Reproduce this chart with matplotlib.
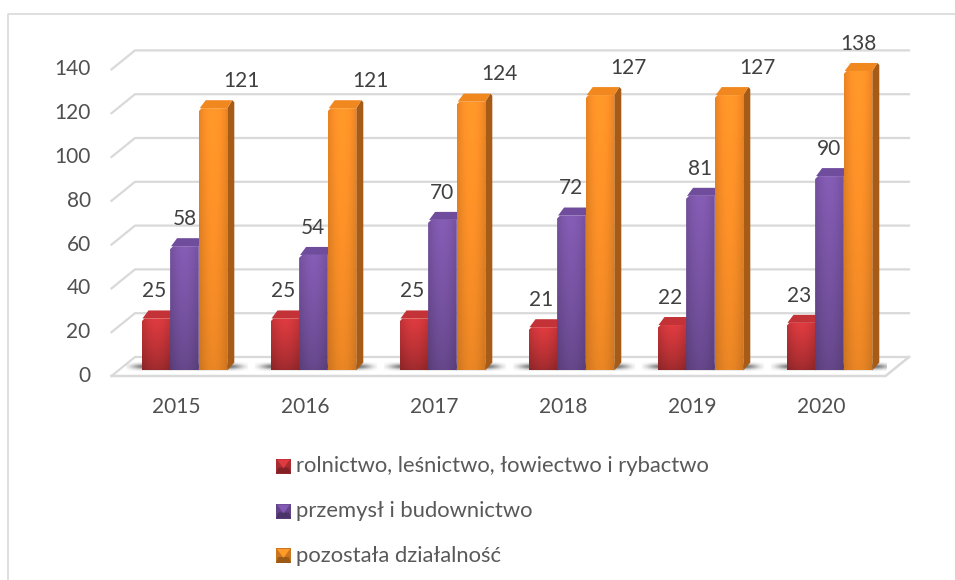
import numpy as np
import matplotlib
matplotlib.use('Agg')
import matplotlib.pyplot as plt
from matplotlib.colors import to_rgb
from matplotlib.patches import Polygon, Rectangle
from matplotlib.transforms import ScaledTranslation

years = ['2015', '2016', '2017', '2018', '2019', '2020']
rolnictwo = [25, 25, 25, 21, 22, 23]
przemysl = [58, 54, 70, 72, 81, 90]
pozostala = [121, 121, 124, 127, 127, 138]
series_names = ['rolnictwo, leśnictwo, łowiectwo i rybactwo', 'przemysł i budownictwo', 'pozostała działalność']
y_ticks = [0, 20, 40, 60, 80, 100, 120, 140]

plt.rcParams['font.family'] = ['Lato', 'DejaVu Sans']

W, H = 955, 580
fig = plt.figure(figsize=(W / 100, H / 100), dpi=100)

# front plane of the 3d box, in pixels
left, right, base = 111.5, 885.5, 376
px_y = 2.19
px_x = (right - left) / 6
ax = fig.add_axes([left / W, 1 - base / H, (right - left) / W, px_y * 140 / H])
ax.set_xlim(-0.5, 5.5)
ax.set_ylim(0, 140)
ax.patch.set_visible(False)
for s in ax.spines.values():
    s.set_visible(False)

def dx(p):
    return p / px_x

def dy(p):
    return p / px_y

# walls / gridlines
grid = '#d9d9d9'
back_x = dx(23.5)
back_y = dy(19)
for v in y_ticks:
    ax.plot([-0.5, -0.5 + back_x, 5.5 + back_x], [v, v + back_y, v + back_y],
            color=grid, lw=1.6, clip_on=False, zorder=1, solid_joinstyle='miter')
ax.plot([-0.5, 5.5, 5.5 + back_x], [0, 0, back_y], color=grid, lw=1.8, clip_on=False, zorder=1)

colors = {
    0: dict(front='#d2383c', top='#c23236', side='#7c1f20', vert=0.72),
    1: dict(front='#7d57aa', top='#6f4c9c', side='#4a3069', vert=0.78),
    2: dict(front='#fb8f27', top='#f0881f', side='#a65b16', vert=0.9),
}
bar_w = dx(28.6)
depth_x = dx(7)
depth_y = dy(8)
floor_y = dy(5.5)
top_y = dy(2.8)
group_shift = dx(-34.5)
label_dx = [dx(-2), dx(0), dx(28)]


def face(x0, x1, y0, y1, col, vert):
    # front face with soft horizontal and vertical shading
    c = np.array(to_rgb(col))
    xs = np.linspace(0, 1, 40)
    ys = np.linspace(0, 1, 60)[:, None]
    h = 0.90 + 0.14 * np.sin(np.pi * xs)
    shade = h[None, :] * (vert + (1.03 - vert) * ys ** 0.8)
    img = np.clip(c[None, None, :] * shade[:, :, None], 0, 1)
    im = ax.imshow(img, extent=[x0, x1, y0, y1], origin='lower', aspect='auto',
                   zorder=5, clip_on=True, interpolation='bilinear')
    r = dx(3)
    poly = Polygon([[x0, y0], [x0, y1 - dy(3)], [x0 + r, y1], [x1, y1], [x1, y0]],
                   closed=True, transform=ax.transData, fc='none', ec='none')
    ax.add_patch(poly)
    im.set_clip_path(poly)
    return im


def shadow(i):
    x0 = i + group_shift - dx(16)
    x1 = i + group_shift + 3 * bar_w + depth_x + dx(13)
    xs = np.linspace(-1, 1, 120)
    ys = np.linspace(-1, 1, 30)[:, None]
    a = 0.8 * np.exp(-(np.abs(xs) ** 8)[None, :] * 2.5 - (ys * 1.6) ** 2)
    img = np.zeros((30, 120, 4))
    img[..., :3] = 0.2
    img[..., 3] = a
    ax.imshow(img, extent=[x0, x1, dy(5), dy(14)], origin='lower', aspect='auto',
              zorder=2, interpolation='bilinear')


for s_i, values in enumerate([rolnictwo, przemysl, pozostala]):
    st = colors[s_i]
    for i, v in enumerate(values):
        if s_i == 0:
            shadow(i)
        x0 = i + group_shift + s_i * bar_w
        x1 = x0 + bar_w
        top = top_y + v
        ax.add_patch(Polygon([[x1, floor_y], [x1 + depth_x, floor_y + depth_y], [x1 + depth_x, top + depth_y - dy(2)],
                              [x1 + depth_x - dx(2), top + depth_y], [x1, top]],
                             fc=st['side'], ec='none', zorder=4, clip_on=False))
        ax.add_patch(Polygon([[x0 + dx(1), top], [x0 + depth_x, top + depth_y], [x1 + depth_x - dx(2), top + depth_y], [x1, top]],
                             fc=st['top'], ec='none', zorder=4, clip_on=False))
        face(x0, x1, floor_y, top, st['front'], st['vert']).set_zorder(5)
        # the last orange label sits right above its bar in the original
        shift_x = 0 if (s_i == 2 and i == 5) else label_dx[s_i]
        ax.text(x0 + bar_w / 2 + shift_x, v + dy(30), str(v),
                ha='center', va='center', fontsize=15, color='#404040', zorder=7, clip_on=False)

ax.set_xticks(range(6))
ax.set_xticklabels(years)
ax.set_yticks(y_ticks)
ax.tick_params(axis='both', length=0, labelsize=15, labelcolor='#505050')
ax.tick_params(axis='x', pad=15)
ax.tick_params(axis='y', pad=15)
shift = ScaledTranslation(0, 1.5 / 72, fig.dpi_scale_trans)
for t in ax.get_yticklabels():
    t.set_transform(t.get_transform() + shift)
ax.set_xlim(-0.5, 5.5)
ax.set_ylim(0, 140)

# overlay in pixels for frame and legend
ov = fig.add_axes([0, 0, 1, 1], zorder=10)
ov.set_xlim(0, W)
ov.set_ylim(H, 0)
ov.axis('off')
ov.plot([8, 8, W], [H, 13.5, 13.5], color='#d9d9d9', lw=1.2)

leg_colors = ['#c8343a', '#7450a0', '#f08a24']
leg_y = [466, 511, 555.5]
for name, col, yy in zip(series_names, leg_colors, leg_y):
    c = np.array(to_rgb(col))
    x0, y0, s = 276, yy - 7.5, 15
    ov.add_patch(Rectangle((x0, y0), s, s, fc=c * 0.85, ec='none'))
    ov.add_patch(Polygon([[x0, y0 + s], [x0 + s, y0 + s], [x0 + s * 0.85, y0 + s * 0.6], [x0 + s * 0.15, y0 + s * 0.6]], fc=c * 0.65, ec='none'))
    ov.add_patch(Polygon([[x0 + 1, y0 + 1], [x0 + s - 1, y0 + 1], [x0 + s / 2, y0 + s * 0.65]], fc=np.minimum(c * 1.12, 1), ec='none'))
    ov.text(296, yy, name, ha='left', va='center', fontsize=15.8, color='#595959')

fig.savefig('out.png', dpi=100)
